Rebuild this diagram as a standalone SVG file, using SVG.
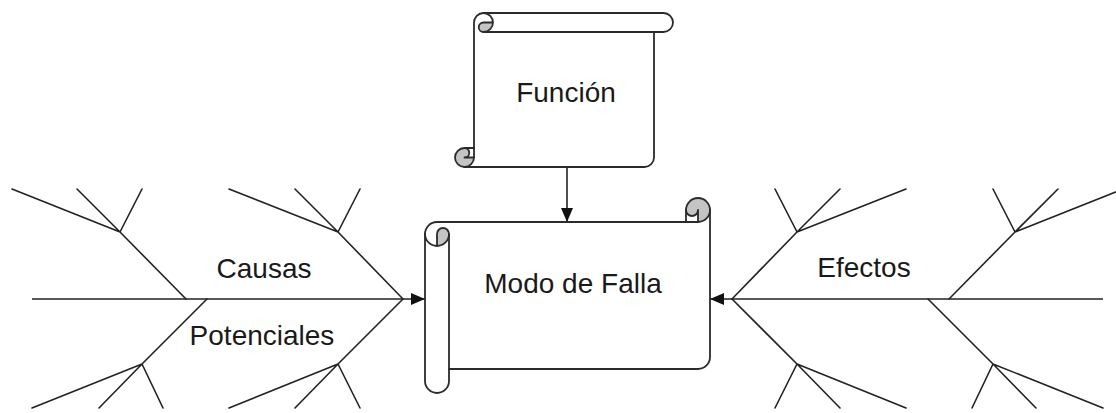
<svg xmlns="http://www.w3.org/2000/svg" width="1116" height="413" viewBox="0 0 1116 413">
  <style>
    .bg { fill: #ffffff; }
    .scroll-body { fill: #ffffff; stroke: none; }
    .scroll-line { fill: none; stroke: #2b2b2b; stroke-width: 1.8; stroke-linejoin: round; stroke-linecap: round; }
    .scroll-shade { fill: #c4c4c4; stroke: none; }
    .bone { fill: none; stroke: #222222; stroke-width: 1.6; stroke-linecap: round; }
    .arrow { fill: none; stroke: #222222; stroke-width: 1.6; marker-end: url(#head); }
    .label { font-family: "Liberation Sans", Arial, sans-serif; font-size: 28px; fill: #1a1a1a; text-anchor: middle; }
  </style>
  <defs>
    <marker id="head" viewBox="0 0 14 12" refX="14" refY="6" markerWidth="14" markerHeight="12" markerUnits="userSpaceOnUse" orient="auto">
      <path d="M0,0 L14,6 L0,12 Z" fill="#111111"/>
    </marker>
  </defs>

  <rect class="bg" x="0" y="0" width="1116" height="413"/>

  <!-- Connectors: fishbone skeletons and the arrow into the failure mode -->
  <g id="connectors">
    <!-- causes (left fish) -->
    <g id="causes-bones">
      <path class="arrow" d="M32,299 L425,299"/>
      <path class="bone" d="M186,299 L120,232 M120,232 L12,189 M120,232 L77,189 M120,232 L142,189"/>
      <path class="bone" d="M403,299 L338,232 M338,232 L229,189 M338,232 L295,189 M338,232 L360,189"/>
      <path class="bone" d="M207,299 L142,364 M142,364 L32,408 M142,364 L99,408 M142,364 L163,408"/>
      <path class="bone" d="M403,299 L338,364 M338,364 L229,408 M338,364 L295,408 M338,364 L360,408"/>
    </g>
    <!-- effects (right fish, mirrored) -->
    <g id="effects-bones">
      <path class="arrow" d="M1103,299 L710,299"/>
      <path class="bone" d="M949,299 L1015,232 M1015,232 L1123,189 M1015,232 L1058,189 M1015,232 L993,189"/>
      <path class="bone" d="M732,299 L797,232 M797,232 L906,189 M797,232 L840,189 M797,232 L775,189"/>
      <path class="bone" d="M928,299 L993,364 M993,364 L1103,408 M993,364 L1036,408 M993,364 L972,408"/>
      <path class="bone" d="M732,299 L797,364 M797,364 L906,408 M797,364 L840,408 M797,364 L775,408"/>
    </g>
    <!-- function feeds the failure mode -->
    <path id="funcion-to-modo" class="arrow" d="M567,167 L567,222"/>
  </g>

  <!-- Vertical scroll: Función -->
  <g id="funcion">
    <path class="scroll-body" d="M483.5,13 A9.5,9.5 0 0 0 474,22.5 L474,148 L464.5,148 A9.5,9.5 0 0 0 464.5,167 L644.5,167 A9.5,9.5 0 0 0 654,157.5 L654,32 L663.5,32 A9.5,9.5 0 0 0 663.5,13 Z"/>
    <path class="scroll-shade" d="M493,22.5 A9.5,9.5 0 0 1 483.5,32 A4.75,4.75 0 0 1 483.5,22.5 Z"/>
    <path class="scroll-shade" d="M474,157.5 A9.5,9.5 0 1 1 464.5,148 A4.75,4.75 0 0 1 464.5,157.5 Z"/>
    <path class="scroll-line" d="M483.5,13 A9.5,9.5 0 0 0 474,22.5 L474,148 L464.5,148 A9.5,9.5 0 0 0 464.5,167 L644.5,167 A9.5,9.5 0 0 0 654,157.5 L654,32 L663.5,32 A9.5,9.5 0 0 0 663.5,13 Z"/>
    <path class="scroll-line" d="M474,148 L474,157.5 A9.5,9.5 0 0 1 464.5,167"/>
    <path class="scroll-line" d="M474,157.5 L464.5,157.5 A4.75,4.75 0 0 0 464.5,148"/>
    <path class="scroll-line" d="M493,22.5 L483.5,22.5 A4.75,4.75 0 0 0 483.5,32 A9.5,9.5 0 0 0 483.5,13"/>
    <path class="scroll-line" d="M483.5,32 L654,32"/>
    <text class="label" x="566" y="102">Función</text>
  </g>

  <!-- Horizontal scroll: Modo de Falla -->
  <g id="modo-de-falla">
    <path class="scroll-body" d="M425,234 A12,12 0 0 1 437,222 L686,222 L686,210 A12,12 0 0 1 710,210 L710,357 A12,12 0 0 1 698,369 L449,369 L449,381 A12,12 0 0 1 425,381 Z"/>
    <path class="scroll-shade" d="M437,246 A12,12 0 0 0 449,234 A6,6 0 0 0 437,234 Z"/>
    <path class="scroll-shade" d="M698,222 A12,12 0 1 0 686,210 A6,6 0 0 0 698,210 Z"/>
    <path class="scroll-line" d="M425,234 A12,12 0 0 1 437,222 L686,222 L686,210 A12,12 0 0 1 710,210 L710,357 A12,12 0 0 1 698,369 L449,369 L449,381 A12,12 0 0 1 425,381 Z"/>
    <path class="scroll-line" d="M686,222 L698,222 A12,12 0 0 0 710,210"/>
    <path class="scroll-line" d="M698,222 L698,210 A6,6 0 0 1 686,210"/>
    <path class="scroll-line" d="M437,246 L437,234 A6,6 0 0 1 449,234 A12,12 0 0 1 425,234"/>
    <path class="scroll-line" d="M449,234 L449,369"/>
    <text class="label" x="573" y="293">Modo de Falla</text>
  </g>

  <!-- Fishbone labels -->
  <g id="causas-potenciales">
    <text class="label" x="264" y="278">Causas</text>
    <text class="label" x="262" y="345">Potenciales</text>
  </g>
  <g id="efectos">
    <text class="label" x="864" y="277">Efectos</text>
  </g>
</svg>
